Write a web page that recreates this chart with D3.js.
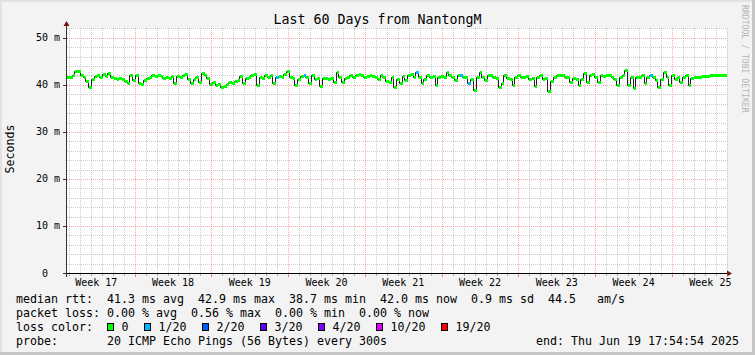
<!DOCTYPE html>
<html><head><meta charset="utf-8">
<script src="https://cdn.jsdelivr.net/npm/d3@7"></script>
<style>
html,body{margin:0;padding:0;background:#f3f3f3;}
svg{display:block;}
text{font-family:"DejaVu Sans Mono",monospace;white-space:pre;}
</style></head><body>
<svg id="c" width="755" height="355"></svg>
<script>
// ---------------- data ----------------
const title = "Last 60 Days from NantongM";
const yAxisTitle = "Seconds";
const watermark = "RRDTOOL / TOBI OETIKER";
const tStart = Date.UTC(2025, 3, 20, 20, 4);
const tEnd = Date.UTC(2025, 5, 20, 0, 23);
const yMax = 52.1;            // ms
const yTicks = [0, 10, 20, 30, 40, 50];
const yTickLabels = ["0  ", "10 m", "20 m", "30 m", "40 m", "50 m"];
const yMinorStep = 2;
// median rtt per 6-hour bin (ms)
const medianMs = [
 41.7,41.6,42.0,42.9,43.0,42.2,41.7,40.8,39.5,41.3,41.9,42.0,41.6,42.4,41.8,42.5,41.6,41.4,41.3,41.5,
 41.2,40.9,40.4,42.1,41.0,42.2,40.3,40.2,41.0,41.4,41.7,42.2,41.9,42.2,41.8,41.5,41.6,41.4,41.8,40.5,
 41.9,41.6,42.0,42.3,41.3,40.4,41.3,41.6,40.7,42.6,42.0,41.5,40.1,40.6,40.0,40.2,39.5,39.8,40.2,40.6,
 40.5,40.9,41.1,41.8,40.3,41.4,41.6,42.0,42.3,39.9,41.7,41.5,42.0,41.6,42.1,40.3,41.6,41.9,41.7,42.4,
 43.0,41.6,41.5,39.9,41.3,41.9,42.0,41.6,40.3,42.0,41.3,41.4,39.8,41.4,41.5,41.3,41.4,40.6,42.8,41.6,
 40.6,41.5,41.6,42.0,41.7,42.2,42.3,42.0,41.6,41.8,42.0,41.9,41.7,41.3,42.0,41.7,40.8,40.6,41.6,39.5,
 41.3,40.3,41.8,41.0,42.0,42.3,41.7,42.8,41.7,40.3,41.3,42.0,41.6,41.8,39.9,41.7,41.8,41.6,42.7,42.0,
 41.7,41.0,42.0,42.1,41.7,41.6,40.3,41.3,38.9,41.7,42.8,41.7,41.0,42.0,42.0,41.7,41.4,39.6,40.4,42.0,
 41.4,41.3,40.0,41.7,42.0,41.6,41.6,41.8,41.3,41.4,39.8,41.7,42.0,41.3,41.5,38.7,40.9,41.7,42.0,42.0,
 42.0,41.6,41.7,40.6,41.4,41.3,39.9,41.3,42.5,40.6,42.0,42.4,41.7,40.6,42.0,41.9,42.0,42.1,41.6,41.3,
 39.9,41.6,42.0,43.1,40.0,41.6,39.3,41.7,41.7,42.0,40.3,41.6,42.2,41.7,41.0,39.6,41.3,42.8,41.7,40.0,
 42.0,41.3,41.6,40.6,41.7,42.0,40.0,41.4,41.6,41.7,41.7,41.8,41.9,41.9,42.0,42.0,42.1,42.0,42.0,42.0
];
// loss level index per bin (0 = no loss, 1 = 1/20)
const lossIdx = [
 0,0,0,0,0,0,0,0,0,0,0,0,0,0,0,0,0,0,0,0,
 0,0,0,0,0,0,0,0,0,0,0,0,0,0,0,0,0,0,0,0,
 0,0,0,0,0,0,0,0,0,0,0,0,0,0,0,0,0,0,0,0,
 0,0,0,0,0,0,0,0,0,0,0,0,0,0,0,0,1,0,0,0,
 0,0,0,0,0,0,1,0,0,0,0,0,0,0,0,0,0,0,0,0,
 0,0,0,0,0,0,0,0,0,0,0,0,0,0,0,0,0,0,0,0,
 0,0,0,0,0,0,0,1,0,0,0,0,0,0,0,0,0,0,0,0,
 0,0,0,1,0,0,1,0,0,0,0,0,0,0,0,0,0,0,0,0,
 0,0,0,0,0,0,0,0,0,0,0,0,0,0,0,0,0,0,0,0,
 0,0,0,0,0,0,0,0,0,0,0,0,0,0,0,0,0,0,0,0,
 0,0,0,0,0,0,0,0,0,0,0,0,1,0,0,0,0,0,0,0,
 0,0,0,0,0,0,0,0,0,0,0,0,0,0,0,0,0,0,0,0
];
const lossLevels = ["0", "1/20", "2/20", "3/20", "4/20", "10/20", "19/20"];
const lossColors = ["#00ff00", "#00b8ff", "#0059ff", "#5e00ff", "#7e00ff", "#dd00ff", "#ff0000"];
const legendLines = [
  "median rtt:  41.3 ms avg  42.9 ms max  38.7 ms min  42.0 ms now  0.9 ms sd  44.5   am/s",
  "packet loss: 0.00 % avg  0.56 % max  0.00 % min  0.00 % now",
  "loss color:",
  "probe:       20 ICMP Echo Pings (56 Bytes) every 300s"
];
const endLabel = "end: Thu Jun 19 17:54:54 2025";

// ---------------- drawing ----------------
const W = 755, H = 355;
const L = 67, R = 727, T = 28, B = 273;
const svg = d3.select("#c");

// measure monospace advance so font sizes give the wanted character pitch
const probe = svg.append("text").attr("font-size", "100px").text("0000000000");
const advPerPx = probe.node().getComputedTextLength() / 1000;
probe.remove();
const fsFor = adv => (adv / advPerPx).toFixed(2) + "px";
const fsLegend = fsFor(7.0), fsAxis = fsFor(6.02), fsTitle = fsFor(8.0), fsMark = fsFor(4.9);

svg.append("rect").attr("width", W).attr("height", H).attr("fill", "#f3f3f3");
svg.append("rect").attr("x", 0).attr("y", 0).attr("width", W).attr("height", 2).attr("fill", "#e2e2e2");
svg.append("rect").attr("x", 0).attr("y", 0).attr("width", 2).attr("height", H).attr("fill", "#e2e2e2");
svg.append("rect").attr("x", 0).attr("y", H - 3).attr("width", W).attr("height", 3).attr("fill", "#c6c6c6");
svg.append("rect").attr("x", W - 3).attr("y", 0).attr("width", 3).attr("height", H).attr("fill", "#c6c6c6");

const x = d3.scaleUtc().domain([tStart, tEnd]).range([L, R]);
const y = d3.scaleLinear().domain([0, yMax]).range([B, T]);

svg.append("rect").attr("x", L).attr("y", T).attr("width", R - L).attr("height", B - T).attr("fill", "#ffffff");

const px = v => Math.round(v) + 0.5;
const minorCol = "rgba(140,140,140,0.45)";
const majorCol = "rgba(235,60,60,0.45)";
const g = svg.append("g");

// minor horizontal grid
const yMinor = d3.range(0, yMax, yMinorStep).filter(v => v > 0 && v % 10 !== 0);
g.selectAll(".hm").data(yMinor).join("line")
  .attr("x1", L).attr("x2", R).attr("y1", d => px(y(d))).attr("y2", d => px(y(d)))
  .attr("stroke", minorCol).attr("stroke-dasharray", "1,1");
// minor vertical grid (days)
const days = d3.utcDay.range(tStart, tEnd);
const weekLines = d3.utcSunday.range(tStart, tEnd);
const dayMinor = days.filter(d => d.getUTCDay() !== 0);
g.selectAll(".vm").data(dayMinor).join("line")
  .attr("x1", d => px(x(d))).attr("x2", d => px(x(d))).attr("y1", T).attr("y2", B)
  .attr("stroke", minorCol).attr("stroke-dasharray", "1,1");
// major grid
g.selectAll(".hM").data(yTicks.filter(v => v > 0)).join("line")
  .attr("x1", L).attr("x2", R).attr("y1", d => px(y(d))).attr("y2", d => px(y(d)))
  .attr("stroke", majorCol).attr("stroke-dasharray", "1,1");
g.selectAll(".vM").data(weekLines).join("line")
  .attr("x1", d => px(x(d))).attr("x2", d => px(x(d))).attr("y1", T).attr("y2", B)
  .attr("stroke", majorCol).attr("stroke-dasharray", "1,1");

// data
const step = (tEnd - tStart) / medianMs.length;
const pts = medianMs.map((v, i) => ({ t0: tStart + i * step, t1: tStart + (i + 1) * step, v, l: lossIdx[i] }));
const linePts = pts.map(d => [d.t0, d.v]).concat([[pts[pts.length - 1].t1, pts[pts.length - 1].v]]);
svg.append("path")
  .attr("d", d3.line().x(d => Math.round(x(d[0])) - 0.5).y(d => Math.round(y(d[1])) + 0.5).curve(d3.curveStepAfter)(linePts))
  .attr("fill", "none").attr("stroke", "#202020").attr("stroke-width", 1);
svg.append("g").selectAll("rect").data(pts).join("rect")
  .attr("x", d => Math.round(x(d.t0)))
  .attr("width", d => Math.max(1, Math.round(x(d.t1)) - Math.round(x(d.t0))))
  .attr("y", d => Math.round(y(d.v)) - 1)
  .attr("height", 3)
  .attr("fill", d => lossColors[d.l]);

// axes
const axisCol = "#333333";
const arrowCol = "#7f1010";
svg.append("line").attr("x1", L - 0.5).attr("x2", L - 0.5).attr("y1", B + 4).attr("y2", T - 3)
  .attr("stroke", axisCol);
svg.append("line").attr("x1", L - 4).attr("x2", R + 2).attr("y1", B + 0.5).attr("y2", B + 0.5)
  .attr("stroke", "#000");
svg.append("path").attr("d", `M${L - 3.5},${T - 2}L${L + 2.5},${T - 2}L${L - 0.5},${T - 7}Z`).attr("fill", arrowCol);
svg.append("path").attr("d", `M${R},${B - 2.5}L${R},${B + 3.5}L${R + 5},${B + 0.5}Z`).attr("fill", arrowCol);

// y ticks
svg.selectAll(".yt").data(yTicks).join("line")
  .attr("x1", L - 4).attr("x2", L).attr("y1", d => px(y(d))).attr("y2", d => px(y(d)))
  .attr("stroke", axisCol);
svg.selectAll(".yl").data(yTicks).join("text")
  .attr("x", 60).attr("y", d => y(d)).attr("dy", "0.35em")
  .attr("text-anchor", "end").attr("font-size", fsAxis).attr("fill", "#000")
  .text((d, i) => yTickLabels[i]);

// x ticks
svg.selectAll(".xtm").data(dayMinor).join("line")
  .attr("x1", d => px(x(d))).attr("x2", d => px(x(d))).attr("y1", B + 1).attr("y2", B + 3)
  .attr("stroke", "rgba(120,120,120,0.6)");
svg.selectAll(".xtM").data(weekLines).join("line")
  .attr("x1", d => px(x(d))).attr("x2", d => px(x(d))).attr("y1", B + 1).attr("y2", B + 4)
  .attr("stroke", "rgba(235,60,60,0.6)");
const weekLabels = d3.utcSunday.range(d3.utcSunday.floor(tStart), tEnd + 7 * 864e5)
  .map(d => new Date(+d + 3.5 * 864e5)).filter(d => d >= tStart && d <= tEnd);
const fmtWeek = d3.utcFormat("Week %V");
svg.selectAll(".xl").data(weekLabels).join("text")
  .attr("x", d => x(d)).attr("y", 282.7).attr("dy", "0.35em")
  .attr("text-anchor", "middle").attr("font-size", fsAxis).attr("fill", "#000")
  .text(d => fmtWeek(d));

// titles
svg.append("text").attr("x", W / 2).attr("y", 19.5).attr("dy", "0.35em")
  .attr("text-anchor", "middle").attr("font-size", fsTitle).attr("fill", "#000").text(title);
svg.append("text").attr("transform", "translate(10,149) rotate(-90)").attr("dy", "0.35em")
  .attr("text-anchor", "middle").attr("font-size", fsLegend).attr("fill", "#000").text(yAxisTitle);
svg.append("text").attr("transform", "translate(745,5) rotate(90)").attr("dy", "0.35em")
  .attr("text-anchor", "start").attr("font-size", fsMark).attr("fill", "#b4b4b4").text(watermark);

// legend
const rowY = [299.3, 313.3, 327.3, 341];
const charW = 7.0;
legendLines.forEach((s, i) => {
  svg.append("text").attr("x", 16).attr("y", rowY[i]).attr("dy", "0.35em")
    .attr("font-size", fsLegend).attr("fill", "#000").text(s);
});
let bx = 16 + 13 * charW - 0.3;
lossLevels.forEach((lab, i) => {
  svg.append("rect").attr("x", Math.round(bx) + 0.5).attr("y", 323.5).attr("width", 6).attr("height", 7)
    .attr("fill", lossColors[i]).attr("stroke", "#000").attr("stroke-width", 1);
  svg.append("text").attr("x", bx + 14.7).attr("y", rowY[2]).attr("dy", "0.35em")
    .attr("font-size", fsLegend).attr("fill", "#000").text(lab);
  bx += 30 + charW * lab.length;
});
svg.append("text").attr("x", 739).attr("y", rowY[3]).attr("dy", "0.35em")
  .attr("text-anchor", "end").attr("font-size", fsLegend).attr("fill", "#000").text(endLabel);
</script>
</body></html>
